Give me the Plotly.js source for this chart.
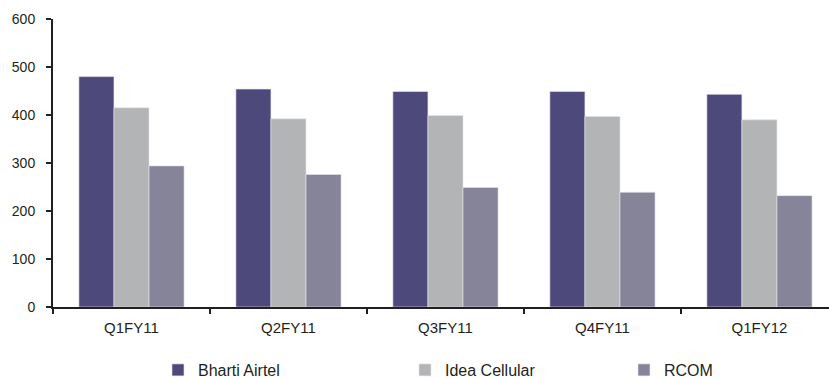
<!DOCTYPE html>
<html>
<head>
<meta charset="utf-8">
<script src="https://cdn.plot.ly/plotly-3.0.1.min.js"></script>
<style>
  html, body { margin: 0; padding: 0; background: #fff; overflow: hidden; }
  #chart { width: 829px; height: 378px; }
</style>
</head>
<body>
<div id="chart"></div>
<script>
// Quarterly figures for the three operators
const quarters = ["Q1FY11", "Q2FY11", "Q3FY11", "Q4FY11", "Q1FY12"];
const bhartiAirtel = [480, 454, 449, 449, 443];
const ideaCellular = [415, 392, 399, 397, 390];
const rcom = [294, 276, 249, 239, 232];
const yTicks = [0, 100, 200, 300, 400, 500, 600];

const seriesNames = ["Bharti Airtel", "Idea Cellular", "RCOM"];
const seriesColors = ["#4e497b", "#b3b4b6", "#868499"];
const seriesValues = [bhartiAirtel, ideaCellular, rcom];
// one legend per series so each entry sits at its own spot along the bottom
const legendIds = ["legend", "legend2", "legend3"];
const legendX = [0.1353, 0.4536, 0.7358];

const traces = seriesValues.map((vals, i) => ({
  type: "bar",
  name: seriesNames[i],
  x: quarters,
  y: vals,
  legend: legendIds[i],
  marker: { color: seriesColors[i], line: { color: "#e6e6ee", width: 0.6 } },
  hoverinfo: "x+y+name"
}));

const axisColor = "#231f20";
const textColor = "#231f20";

function legendAt(x) {
  return {
    orientation: "h",
    x: x,
    xanchor: "left",
    xref: "paper",
    y: 8 / 378,
    yanchor: "middle",
    yref: "container",
    itemwidth: 30,
    font: { size: 16, color: textColor },
    bgcolor: "rgba(0,0,0,0)",
    borderwidth: 0
  };
}

const layout = {
  width: 829,
  height: 378,
  margin: { l: 53, r: 0, t: 19, b: 71, pad: 0, autoexpand: false },
  paper_bgcolor: "#ffffff",
  plot_bgcolor: "#ffffff",
  barmode: "group",
  bargap: 0.33,
  bargroupgap: 0,
  font: { family: "Liberation Sans, Arial, sans-serif", size: 13, color: textColor },
  showlegend: true,
  legend: legendAt(legendX[0]),
  legend2: legendAt(legendX[1]),
  legend3: legendAt(legendX[2]),
  xaxis: {
    type: "category",
    range: [-0.5, 4.443],
    showline: true,
    linecolor: axisColor,
    linewidth: 2,
    ticks: "outside",
    tickson: "boundaries",
    ticklen: 5,
    tickwidth: 2,
    tickcolor: axisColor,
    ticklabelstandoff: 6,
    showgrid: false,
    zeroline: false,
    tickfont: { size: 15, color: textColor },
    fixedrange: true
  },
  yaxis: {
    range: [0, 600],
    tickvals: yTicks,
    ticktext: yTicks.map(String),
    showline: true,
    linecolor: axisColor,
    linewidth: 2,
    ticks: "outside",
    ticklen: 5,
    tickwidth: 2,
    tickcolor: axisColor,
    ticklabelstandoff: 8,
    showgrid: false,
    zeroline: false,
    tickfont: { size: 14, color: textColor },
    fixedrange: true
  }
};

Plotly.newPlot("chart", traces, layout, { displayModeBar: false, staticPlot: true });
</script>
</body>
</html>
